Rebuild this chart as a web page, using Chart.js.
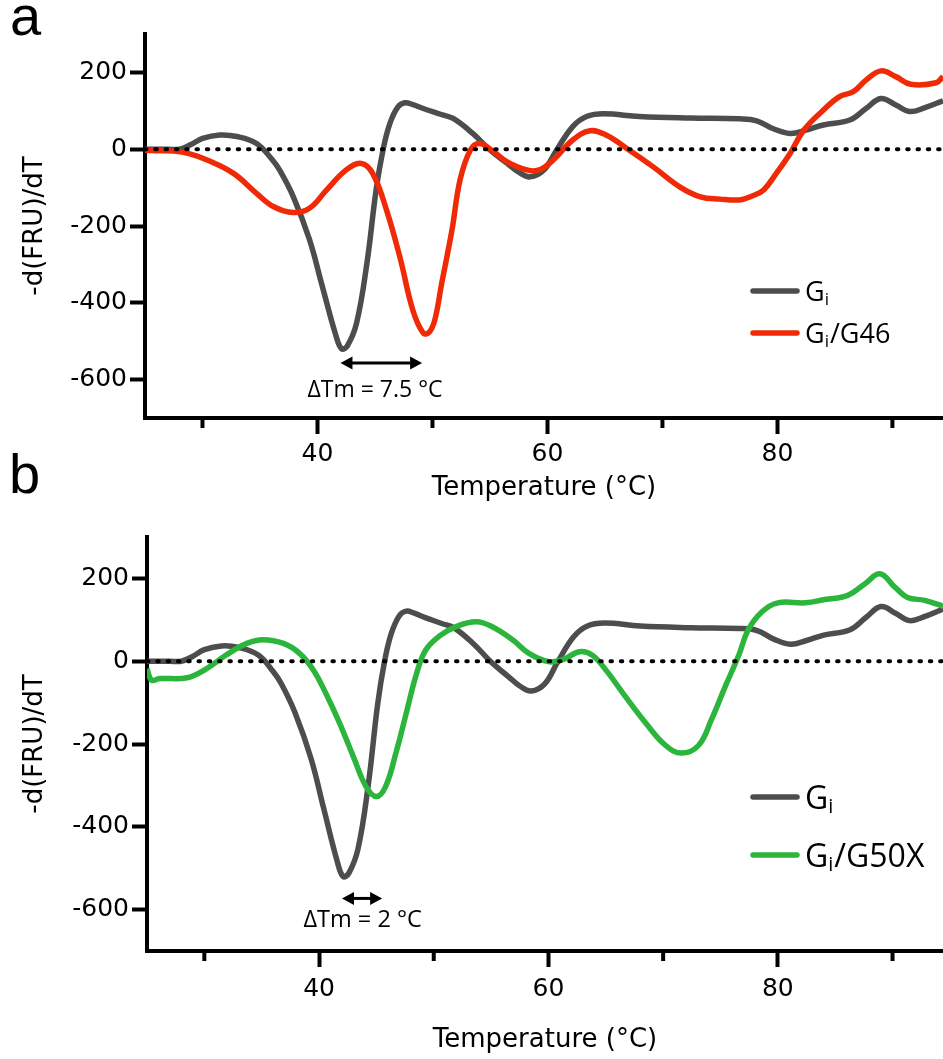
<!DOCTYPE html>
<html>
<head>
<meta charset="utf-8">
<script src="https://cdn.jsdelivr.net/npm/chart.js@4"></script>
<style>
  body { margin: 0; background: #fff; }
  #wrap { position: relative; width: 943px; height: 1059px; }
  canvas { position: absolute; left: 0; }
  .tag { position: absolute; font: 56px/1 "Liberation Sans", Arial, sans-serif; color: #000; }
</style>
</head>
<body>
<div id="wrap">
  <canvas id="chartA" width="943" height="506" style="top:0"></canvas>
  <canvas id="chartB" width="943" height="553" style="top:506px"></canvas>
  <div class="tag" style="left:10px;top:-12px">a</div>
  <div class="tag" style="left:9px;top:446px">b</div>
</div>
<script>
// Ejes compartidos
const xTicks = [40, 60, 80];
const xMinorTicks = [30, 50, 70, 90];
const yTicks = [-600, -400, -200, 0, 200];

// Gi (curva gris, igual en los dos paneles)
const giTemp = [25, 26, 27, 28, 29, 30, 31.5, 33, 34.7, 36, 36.7, 37.9, 39.3, 40.4, 41.6, 42.1, 42.6, 43.4, 44.3, 45.1, 45.7, 46.3, 47, 47.6, 48.3, 49.2, 50.7, 51.8, 53.5, 55, 56.5, 57.5, 58.5, 59.7, 60.8, 62.2, 63.4, 64.9, 68, 72.4, 76.7, 78.2, 79.6, 81.1, 82.5, 84, 86.3, 87.7, 89, 90.3, 91.5, 92.9, 94.4];
const giValue = [0, 0, 0, 0, 12, 28, 37, 33, 15, -25, -54, -124, -235, -355, -485, -520, -512, -453, -297, -106, -2, 67, 110, 121, 116, 106, 91, 80, 41, -2, -37, -60, -72, -54, -2, 59, 85, 92, 85, 81, 79, 74, 54, 41, 50, 63, 76, 106, 132, 115, 98, 109, 126];

// Gi/G46 (panel a)
const g46Temp = [25, 26, 27.5, 28.9, 30.4, 32.7, 34.7, 36.2, 37.9, 39.3, 40.8, 42.5, 43.8, 44.8, 46, 47.2, 48.3, 49.2, 49.7, 50.2, 50.8, 51.7, 52.4, 53.3, 54.1, 55.3, 56.5, 58.2, 59.3, 60.5, 62.2, 63.7, 65.1, 66.9, 69.2, 71.5, 73.3, 75, 76.7, 77.8, 78.8, 79.9, 81.1, 82.3, 84, 85.4, 86.6, 87.7, 89, 90.3, 91.6, 93.8, 94.4];
const g46Value = [-3, -4, -5, -12, -28, -63, -115, -150, -165, -154, -106, -54, -37, -63, -158, -285, -420, -479, -477, -445, -350, -210, -80, -2, 15, -6, -33, -54, -54, -28, 24, 48, 37, 2, -46, -98, -124, -130, -132, -122, -106, -63, -11, 50, 102, 137, 150, 180, 204, 189, 169, 173, 189];

// Gi/G50X (panel b)
const g50xTemp = [25, 25.4, 26.1, 28.5, 30.2, 31.9, 33.7, 35.1, 36.9, 38.3, 39.5, 40.6, 41.8, 43, 44.1, 45, 45.8, 46.7, 47.6, 48.5, 49.3, 50.5, 51.9, 53.7, 55.1, 56.9, 58.3, 60, 61.2, 62.7, 63.8, 65, 66.7, 68.5, 70.2, 71.6, 73.1, 74.2, 75.4, 76.6, 77.4, 78.6, 80, 82.4, 84.1, 86.1, 87.6, 88.9, 90.2, 91.3, 92.8, 94.4];
const g50xValue = [-18, -46, -42, -40, -18, 15, 43, 52, 43, 19, -21, -78, -150, -231, -303, -327, -303, -222, -126, -30, 27, 61, 83, 95, 83, 51, 19, -1, 3, 23, 15, -21, -85, -150, -203, -222, -203, -142, -62, 15, 75, 119, 141, 141, 149, 159, 187, 211, 179, 154, 147, 133];

const X_MIN = 25, X_MAX = 94.4, Y_MIN = -700, Y_MAX = 300;
const axisFont = "'DejaVu Sans', sans-serif";
const noteFont = "'Open Sans', sans-serif";

function toPoints(temps, values) {
    return temps.map((t, i) => ({ x: t, y: values[i] }));
}

// Ticks menores, flecha de ΔTm, texto y leyenda con subíndice
const extras = {
    id: 'extras',
    afterDraw(chart, args, opts) {
        const { ctx, chartArea, scales: { x, y } } = chart;
        ctx.save();
        ctx.strokeStyle = '#000';
        ctx.fillStyle = '#000';

        ctx.lineWidth = 4;
        xMinorTicks.forEach(v => {
            const px = x.getPixelForValue(v);
            ctx.beginPath();
            ctx.moveTo(px, chartArea.bottom);
            ctx.lineTo(px, chartArea.bottom + 10);
            ctx.stroke();
        });

        // flecha doble
        const ay = y.getPixelForValue(opts.arrow.y);
        const a1 = x.getPixelForValue(opts.arrow.from);
        const a2 = x.getPixelForValue(opts.arrow.to);
        const head = 12;
        ctx.lineWidth = 3;
        ctx.beginPath();
        ctx.moveTo(a1 + head - 1, ay);
        ctx.lineTo(a2 - head + 1, ay);
        ctx.stroke();
        ctx.beginPath();
        ctx.moveTo(a1, ay); ctx.lineTo(a1 + head, ay - 6.5); ctx.lineTo(a1 + head, ay + 6.5); ctx.closePath();
        ctx.moveTo(a2, ay); ctx.lineTo(a2 - head, ay - 6.5); ctx.lineTo(a2 - head, ay + 6.5); ctx.closePath();
        ctx.fill();

        ctx.font = opts.note.size + 'px ' + noteFont;
        ctx.textAlign = 'center';
        ctx.textBaseline = 'middle';
        ctx.fillText(opts.note.text, x.getPixelForValue(opts.note.x), y.getPixelForValue(opts.note.y));

        // leyenda: "G" + subíndice "i" + resto, Gi primero
        const lg = opts.legend;
        ctx.textAlign = 'left';
        ctx.textBaseline = 'alphabetic';
        chart.data.datasets.filter(d => d.label).reverse().forEach((d, i) => {
            const ly = lg.y + i * lg.gap;
            ctx.strokeStyle = d.borderColor;
            ctx.lineWidth = 5.5;
            ctx.lineCap = 'round';
            ctx.beginPath();
            ctx.moveTo(lg.x, ly);
            ctx.lineTo(lg.x + 44, ly);
            ctx.stroke();

            let tx = lg.x + 52;
            const base = ly + lg.size * 0.36;
            ctx.fillStyle = '#000';
            ctx.font = lg.size + 'px ' + noteFont;
            ctx.fillText('G', tx, base);
            tx += ctx.measureText('G').width;
            ctx.font = Math.round(lg.size * 0.62) + 'px ' + noteFont;
            ctx.fillText('i', tx, base + lg.size * 0.14);
            tx += ctx.measureText('i').width + 1;
            ctx.font = lg.size + 'px ' + noteFont;
            ctx.fillText(d.label.slice(2), tx, base);
        });
        ctx.restore();
    }
};

function buildChart(id, mutant, layout, extraOpts) {
    const ctx = document.getElementById(id).getContext('2d');
    return new Chart(ctx, {
        type: 'line',
        data: {
            datasets: [
                {
                    data: [{ x: X_MIN, y: 0 }, { x: X_MAX, y: 0 }],
                    borderColor: '#000',
                    borderWidth: 4,
                    borderDash: [1.5, 8.8],
                    borderCapStyle: 'round',
                    pointRadius: 0,
                    tension: 0
                },
                {
                    label: mutant.label,
                    data: toPoints(mutant.temps, mutant.values),
                    borderColor: mutant.color,
                    borderWidth: 5.5,
                    pointRadius: 0,
                    tension: 0.4
                },
                {
                    label: 'Gi',
                    data: toPoints(giTemp, giValue),
                    borderColor: '#4d4d4d',
                    borderWidth: 5.5,
                    pointRadius: 0,
                    tension: 0.4
                }
            ]
        },
        options: {
            responsive: false,
            animation: false,
            devicePixelRatio: 1,
            layout: { padding: { top: layout.top, right: 0, bottom: layout.bottom, left: 0 } },
            plugins: {
                legend: { display: false },
                tooltip: { enabled: false },
                extras: extraOpts
            },
            scales: {
                x: {
                    type: 'linear',
                    min: X_MIN,
                    max: X_MAX,
                    afterBuildTicks: s => { s.ticks = xTicks.map(v => ({ value: v })); },
                    afterFit: s => { s.height = layout.xHeight; },
                    grid: { drawOnChartArea: false, tickLength: 16, tickWidth: 4, tickColor: '#000' },
                    border: { display: true, color: '#000', width: 4 },
                    ticks: {
                        autoSkip: false,
                        maxRotation: 0,
                        padding: layout.xPad,
                        color: '#000',
                        font: { family: axisFont, size: 25 }
                    },
                    title: {
                        display: true,
                        text: 'Temperature (°C)',
                        color: '#000',
                        font: { family: axisFont, size: 26 },
                        padding: { top: 0, bottom: layout.titlePad }
                    }
                },
                y: {
                    min: Y_MIN,
                    max: Y_MAX,
                    afterBuildTicks: s => { s.ticks = yTicks.map(v => ({ value: v })); },
                    afterFit: s => { s.width = layout.yWidth; },
                    grid: { drawOnChartArea: false, tickLength: 15, tickWidth: 4, tickColor: '#000' },
                    border: { display: true, color: '#000', width: 4 },
                    ticks: {
                        padding: 3,
                        color: '#000',
                        font: { family: axisFont, size: 25 }
                    },
                    title: {
                        display: true,
                        text: '-d(FRU)/dT',
                        color: '#000',
                        font: { family: axisFont, size: 26 },
                        padding: { top: 19.4, bottom: 0 }
                    }
                }
            }
        },
        plugins: [extras]
    });
}

// --- Panel a: Gi vs Gi/G46 ---
buildChart('chartA',
    { label: 'Gi/G46', temps: g46Temp, values: g46Value, color: '#f02a06' },
    { top: 34, bottom: 0, xHeight: 88, yWidth: 145, xPad: 5, titlePad: 2.4 },
    {
        arrow: { from: 42, to: 49.1, y: -557 },
        note: { text: 'ΔTm = 7.5 °C', x: 45.0, y: -627, size: 23 },
        legend: { x: 753, y: 291, gap: 42, size: 27 }
    });

// --- Panel b: Gi vs Gi/G50X ---
buildChart('chartB',
    { label: 'Gi/G50X', temps: g50xTemp, values: g50xValue, color: '#2cb53c' },
    { top: 31, bottom: 2, xHeight: 106, yWidth: 147, xPad: 7, titlePad: 1.4 },
    {
        arrow: { from: 42, to: 45.5, y: -573 },
        note: { text: 'ΔTm = 2 °C', x: 43.8, y: -625, size: 23.5 },
        legend: { x: 753, y: 291, gap: 58, size: 32 }
    });
</script>
</body>
</html>
